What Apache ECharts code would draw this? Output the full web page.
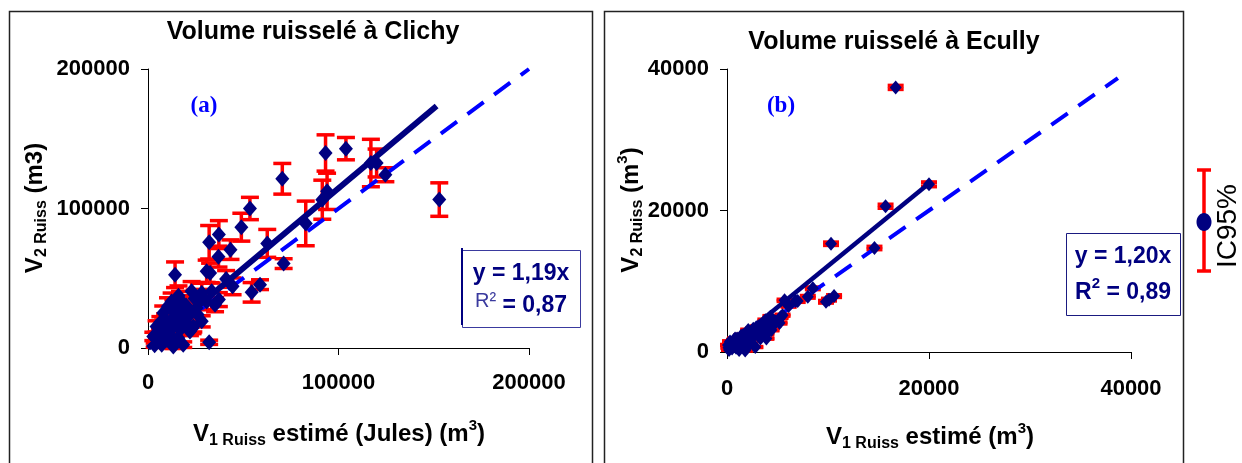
<!DOCTYPE html>
<html><head><meta charset="utf-8">
<script src="https://cdn.jsdelivr.net/npm/echarts@6/dist/echarts.min.js"></script>
<style>html,body{margin:0;padding:0;background:#fff}#c{width:1242px;height:463px}</style>
</head><body><div id="c"></div>
<script>
// ---- Data: Clichy (a) ----
const clichyX = [152900,103900,93200,117000,120000,124600,70500,94000,91500,53500,49000,82800,62600,71200,37200,32100,43300,37000,30800,32600,41000,44400,54400,58800,14200,37200,32100,28200,23400,12400,16800,22900,28200,33400,35200,18600,15000,11600,8000,6300,9800,2800,13300,18500,16800,4500,8900,21200,25500,30800,13300,11200,7200,15900,22000,23800,27000,20000,5500,10000,12000,26000,3500,19500,9000,14000,17500,24500,6500,12500,16000,10500,7800,20500];
const clichyY = [106400,142900,139800,132600,132600,124200,121300,112300,106300,100000,86600,89300,75000,60500,81300,75800,70500,65500,55000,53800,49500,44200,39900,45400,52500,34700,4100,19100,14300,33400,34600,40600,39400,40600,31000,27500,22700,19100,25100,10700,5900,8300,1100,2400,13100,15500,14300,22700,28700,33400,28700,11900,2400,7200,11900,15500,36000,30500,5000,9000,16000,24000,2000,19000,20500,25500,31500,35500,18500,8000,37500,30000,12500,27000];
const clichyErr = [12000,8000,13000,17000,10000,5000,11000,13000,14000,8000,10000,16000,10000,3500,10000,12000,7000,7500,8000,7000,6000,6000,7000,3500,9200,5000,1500,4000,4000,6000,6000,7000,7000,6000,5000,5000,5000,4000,5000,3000,2500,3000,1500,2000,4000,4000,4000,5000,6000,6000,6000,3000,2000,3000,3000,4000,6000,6000,2000,3000,4000,5000,1500,4000,4000,5000,6000,6000,4000,2500,7000,6000,3000,5000];
const clichyFit = [[0, 0], [151500, 173500]];
const clichyOneToOne = [[0, 0], [200000, 200000]];
const clichyTicks = [0, 100000, 200000];

// ---- Data: Ecully (b) ----
const ecullyX = [16700,20000,15700,10300,14600,10100,10600,8000,8500,6800,5700,5200,5300,4300,3800,3100,2600,2100,1600,1000,300,500,1300,2300,3300,3900,3900,700,100,1800,2800,9800,200,1500,2500,3000,4600,900,600,1100,1700,2200,2700,3500,4000,4800,5500,6100,7000,400,800,1400,2000,2900,3600,4400,150,1200];
const ecullyY = [37400,23700,20600,15300,14700,7400,7900,7800,9000,7200,7300,4100,4900,5000,4500,3600,3300,3100,2400,1900,1500,500,750,1200,1900,2600,1900,1700,1000,200,700,7100,300,1300,2000,2800,3800,600,900,1400,1900,2700,2900,3200,4200,4300,5200,6500,7200,1100,1900,2300,1500,3500,3700,3100,600,300];
const ecullyErr = [250,300,250,200,200,150,150,150,150,120,120,100,100,100,100,80,80,80,60,50,40,30,30,40,50,60,50,40,30,20,30,150,20,40,50,60,80,30,30,40,50,60,60,70,80,80,100,120,140,30,40,50,40,70,70,60,20,20];
const ecullyFit = [[0, 500], [19900, 23700]];
const ecullyOneToOne = [[0, 0], [38700, 38700]];
const ecullyTicks = [0, 20000, 40000];

const NAVY = '#000080', RED = '#ff0000', BLUE = '#0000ff';
const FONT = '"Liberation Sans", Arial, sans-serif';

function errData(xs, ys, es) { return xs.map((x, i) => [x, ys[i] - es[i], ys[i] + es[i]]); }
function pts(xs, ys) { return xs.map((x, i) => [x, ys[i]]); }
function errRender(capHalf, lw) {
  return function (params, api) {
    const x = api.value(0), lo = api.value(1), hi = api.value(2);
    const a = api.coord([x, hi]), b = api.coord([x, lo]);
    const st = { stroke: RED, lineWidth: lw };
    return { type: 'group', children: [
      { type: 'line', shape: { x1: a[0], y1: a[1], x2: b[0], y2: b[1] }, style: st },
      { type: 'line', shape: { x1: a[0] - capHalf, y1: a[1], x2: a[0] + capHalf, y2: a[1] }, style: st },
      { type: 'line', shape: { x1: b[0] - capHalf, y1: b[1], x2: b[0] + capHalf, y2: b[1] }, style: st }
    ]};
  };
}
function lbl(margin) {
  return { color: '#000', fontFamily: FONT, fontWeight: 'bold', fontSize: 22, margin: margin, formatter: v => String(v) };
}
function axisCommon(ticks, extra) {
  return Object.assign({
    type: 'value', min: ticks[0], max: ticks[ticks.length - 1], interval: ticks[1] - ticks[0],
    axisLine: { show: true, lineStyle: { color: '#000', width: 1 } },
    axisTick: { show: true, length: 7, lineStyle: { color: '#000', width: 1 } },
    splitLine: { show: false }
  }, extra);
}

const chart = echarts.init(document.getElementById('c'), null, { renderer: 'canvas' });
chart.setOption({
  animation: false,
  grid: [
    { left: 148, top: 69, width: 381, height: 279 },
    { left: 727, top: 69, width: 404, height: 283 }
  ],
  xAxis: [
    axisCommon(clichyTicks, { gridIndex: 0, axisLabel: lbl(24) }),
    axisCommon(ecullyTicks, { gridIndex: 1, axisLabel: lbl(26) })
  ],
  yAxis: [
    axisCommon(clichyTicks, { gridIndex: 0, axisLabel: lbl(18) }),
    axisCommon(ecullyTicks, { gridIndex: 1, axisLabel: lbl(18) })
  ],
  series: [
    { type: 'custom', xAxisIndex: 0, yAxisIndex: 0, z: 1, renderItem: errRender(9, 3.5), data: errData(clichyX, clichyY, clichyErr), encode: { x: 0, y: [1, 2] } },
    { type: 'line', xAxisIndex: 0, yAxisIndex: 0, z: 2, data: clichyOneToOne, symbol: 'none', lineStyle: { color: BLUE, width: 4, type: [20, 13] } },
    { type: 'scatter', xAxisIndex: 0, yAxisIndex: 0, z: 3, data: pts(clichyX, clichyY), symbol: 'diamond', symbolSize: [14, 16], itemStyle: { color: NAVY, opacity: 1 } },
    { type: 'line', xAxisIndex: 0, yAxisIndex: 0, z: 4, data: clichyFit, symbol: 'none', lineStyle: { color: NAVY, width: 6 } },

    { type: 'custom', xAxisIndex: 1, yAxisIndex: 1, z: 1, renderItem: errRender(8, 4), data: errData(ecullyX, ecullyY, ecullyErr), encode: { x: 0, y: [1, 2] } },
    { type: 'line', xAxisIndex: 1, yAxisIndex: 1, z: 2, data: ecullyOneToOne, symbol: 'none', lineStyle: { color: BLUE, width: 4, type: [20, 13] } },
    { type: 'scatter', xAxisIndex: 1, yAxisIndex: 1, z: 3, data: pts(ecullyX, ecullyY), symbol: 'diamond', symbolSize: [12, 14], itemStyle: { color: NAVY, opacity: 1 } },
    { type: 'line', xAxisIndex: 1, yAxisIndex: 1, z: 4, data: ecullyFit, symbol: 'none', lineStyle: { color: NAVY, width: 4.5 } }
  ],
  graphic: [
    { type: 'rect', shape: { x: 9.5, y: 11.5, width: 583, height: 470 }, style: { fill: null, stroke: '#222', lineWidth: 1.5 }, z: 0 },
    { type: 'rect', shape: { x: 604.5, y: 11.5, width: 579, height: 470 }, style: { fill: null, stroke: '#222', lineWidth: 1.5 }, z: 0 },
    { type: 'text', x: 313, y: 32, style: { text: 'Volume ruisselé à Clichy', font: 'bold 25px ' + FONT, fill: '#000', align: 'center', verticalAlign: 'middle' } },
    { type: 'text', x: 894, y: 42, style: { text: 'Volume ruisselé à Ecully', font: 'bold 25px ' + FONT, fill: '#000', align: 'center', verticalAlign: 'middle' } },
    { type: 'text', x: 204, y: 106, style: { text: '(a)', font: 'bold 23px "Liberation Serif", "Times New Roman", serif', fill: BLUE, align: 'center', verticalAlign: 'middle' } },
    { type: 'text', x: 781, y: 106, style: { text: '(b)', font: 'bold 23px "Liberation Serif", "Times New Roman", serif', fill: BLUE, align: 'center', verticalAlign: 'middle' } },
    { type: 'text', x: 339, y: 432, style: {
      text: '{b|V}{s|1 Ruiss}{b| estimé (Jules) (m}{p|3}{b|)}', align: 'center', verticalAlign: 'middle',
      rich: {
        b: { font: 'bold 24px ' + FONT, fill: '#000', lineHeight: 28, verticalAlign: 'bottom' },
        s: { font: 'bold 16px ' + FONT, fill: '#000', lineHeight: 18, verticalAlign: 'bottom', padding: [0, 0, -3, 0] },
        p: { font: 'bold 15px ' + FONT, fill: '#000', lineHeight: 16, verticalAlign: 'top' }
      } } },
    { type: 'text', x: 930, y: 435, style: {
      text: '{b|V}{s|1 Ruiss}{b| estimé (m}{p|3}{b|)}', align: 'center', verticalAlign: 'middle',
      rich: {
        b: { font: 'bold 24px ' + FONT, fill: '#000', lineHeight: 28, verticalAlign: 'bottom' },
        s: { font: 'bold 16px ' + FONT, fill: '#000', lineHeight: 18, verticalAlign: 'bottom', padding: [0, 0, -3, 0] },
        p: { font: 'bold 15px ' + FONT, fill: '#000', lineHeight: 16, verticalAlign: 'top' }
      } } },
    { type: 'text', x: 33, y: 208, rotation: Math.PI / 2, style: {
      text: '{b|V}{s|2 Ruiss}{b| (m3)}', align: 'center', verticalAlign: 'middle',
      rich: {
        b: { font: 'bold 24px ' + FONT, fill: '#000', lineHeight: 28, verticalAlign: 'bottom' },
        s: { font: 'bold 16px ' + FONT, fill: '#000', lineHeight: 18, verticalAlign: 'bottom', padding: [0, 0, -3, 0] }
      } } },
    { type: 'text', x: 629, y: 210, rotation: Math.PI / 2, style: {
      text: '{b|V}{s|2 Ruiss}{b| (m}{p|3}{b|)}', align: 'center', verticalAlign: 'middle',
      rich: {
        b: { font: 'bold 24px ' + FONT, fill: '#000', lineHeight: 28, verticalAlign: 'bottom' },
        s: { font: 'bold 16px ' + FONT, fill: '#000', lineHeight: 18, verticalAlign: 'bottom', padding: [0, 0, -3, 0] },
        p: { font: 'bold 15px ' + FONT, fill: '#000', lineHeight: 16, verticalAlign: 'top' }
      } } },
    { type: 'rect', shape: { x: 462.5, y: 250.5, width: 118, height: 77 }, style: { fill: '#fff', stroke: '#3a3a9e', lineWidth: 1 }, z: 10 },
    { type: 'line', shape: { x1: 462, y1: 248, x2: 462, y2: 325 }, style: { stroke: NAVY, lineWidth: 2 }, z: 11 },
    { type: 'text', x: 521, y: 274, z: 12, style: { text: 'y = 1,19x', font: 'bold 23px ' + FONT, fill: NAVY, align: 'center', verticalAlign: 'middle' } },
    { type: 'text', x: 521, y: 304, z: 12, style: {
      text: '{r|R²}{b| = 0,87}', align: 'center', verticalAlign: 'middle',
      rich: {
        r: { font: '20px ' + FONT, fill: '#3a3a9e', lineHeight: 26, verticalAlign: 'top' },
        b: { font: 'bold 23px ' + FONT, fill: NAVY, lineHeight: 26, verticalAlign: 'bottom', padding: [6, 0, 0, 0] }
      } } },
    { type: 'rect', shape: { x: 1066.5, y: 233.5, width: 114, height: 82 }, style: { fill: '#fff', stroke: '#1a1a80', lineWidth: 1 }, z: 10 },
    { type: 'text', x: 1123, y: 257, z: 12, style: { text: 'y = 1,20x', font: 'bold 23px ' + FONT, fill: NAVY, align: 'center', verticalAlign: 'middle' } },
    { type: 'text', x: 1123, y: 290, z: 12, style: {
      text: '{b|R}{p|2}{b| = 0,89}', align: 'center', verticalAlign: 'middle',
      rich: {
        b: { font: 'bold 23px ' + FONT, fill: NAVY, lineHeight: 28, verticalAlign: 'bottom' },
        p: { font: 'bold 15px ' + FONT, fill: NAVY, lineHeight: 16, verticalAlign: 'top' }
      } } },
    { type: 'line', shape: { x1: 1204, y1: 170, x2: 1204, y2: 271 }, style: { stroke: RED, lineWidth: 3.5 } },
    { type: 'line', shape: { x1: 1197, y1: 170, x2: 1211, y2: 170 }, style: { stroke: RED, lineWidth: 3.5 } },
    { type: 'line', shape: { x1: 1197, y1: 271, x2: 1211, y2: 271 }, style: { stroke: RED, lineWidth: 3.5 } },
    { type: 'ellipse', shape: { cx: 1204, cy: 222, rx: 7.5, ry: 9 }, style: { fill: NAVY } },
    { type: 'text', x: 1228, y: 226, rotation: Math.PI / 2, style: { text: 'IC95%', font: '28px ' + FONT, fill: '#000', align: 'center', verticalAlign: 'middle' } }
  ]
});
</script></body></html>
